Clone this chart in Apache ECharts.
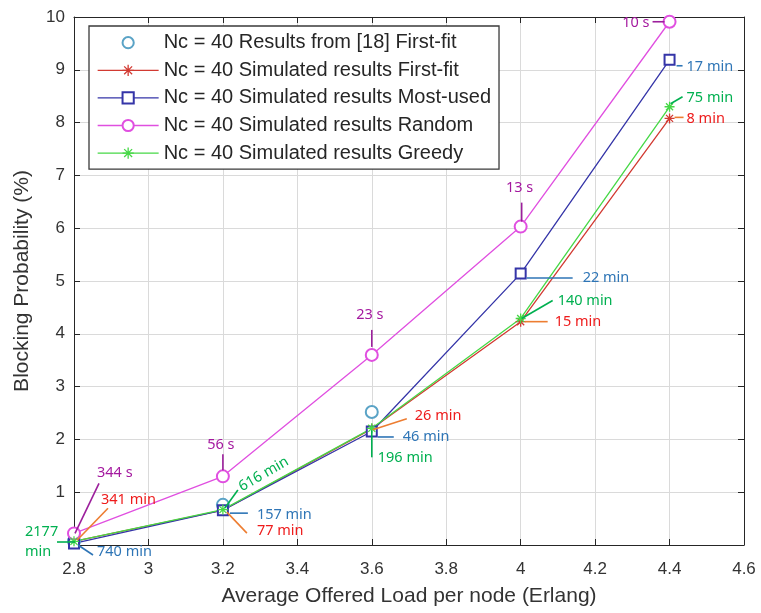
<!DOCTYPE html>
<html>
<head>
<meta charset="utf-8">
<script src="https://cdn.jsdelivr.net/npm/echarts@6/dist/echarts.min.js"></script>
<style>
  html, body { margin: 0; padding: 0; background: #ffffff; }
  #chart { width: 761px; height: 613px; }
</style>
</head>
<body>
<div id="chart"></div>
<script>
// Offered load per node (Erlang)
const loads = [2.8, 3.2, 3.6, 4.0, 4.4];

// Blocking probability (%) per strategy, Nc = 40
const ref18FirstFit = [0.07, 0.76, 2.52, null, null];
const simFirstFit   = [0.07, 0.66, 2.20, 4.23, 8.08];
const simMostUsed   = [0.03, 0.66, 2.15, 5.14, 9.19];
const simRandom     = [0.22, 1.30, 3.60, 6.03, 9.91];
const simGreedy     = [0.07, 0.67, 2.21, 4.29, 8.30];

// Run times written next to each simulated point
const randomTimes   = ['344 s', '56 s', '23 s', '13 s', '10 s'];
const firstFitTimes = ['341 min', '77 min', '26 min', '15 min', '8 min'];
const mostUsedTimes = ['740 min', '157 min', '46 min', '22 min', '17 min'];
const greedyTimes   = ['2177\nmin', '616 min', '196 min', '140 min', '75 min'];

// Axis ticks
const xTicks = [2.8, 3.0, 3.2, 3.4, 3.6, 3.8, 4.0, 4.2, 4.4, 4.6];
const yTicks = [0, 1, 2, 3, 4, 5, 6, 7, 8, 9, 10];

const names = [
  'Nc = 40 Results from [18] First-fit',
  'Nc = 40 Simulated results First-fit',
  'Nc = 40 Simulated results Most-used',
  'Nc = 40 Simulated results Random',
  'Nc = 40 Simulated results Greedy'
];

const ASTERISK = 'path://M0,-10L0,10M-10,0L10,0M-7.07,-7.07L7.07,7.07M-7.07,7.07L7.07,-7.07';

// Callout geometry, in pixels relative to the point: leader line [x1,y1,x2,y2], text anchor [x,y]
const randomCallouts = [
  { line: [1, 0, 25, -50], text: [23, -61], align: 'left' },
  { line: [0, -22, 0, -6], text: [-2, -31], align: 'center' },
  { line: [0, -25, 0, -8], text: [-2, -40], align: 'center' },
  { line: [1, -24, 1, -5], text: [-1, -39], align: 'center' },
  { line: [-17, 0, -5, 0], text: [-20, 1], align: 'right' }
];
const firstFitCallouts = [
  { line: [3, -1, 34, -33], text: [27, -41], align: 'left' },
  { line: [4, 2, 24, 23], text: [34, 21], align: 'left' },
  { line: [1, 1, 35, -10], text: [43, -13], align: 'left' },
  { line: [4, 0, 27, 0], text: [34, 0], align: 'left' },
  { line: [5, -1, 14, -1], text: [17, 0], align: 'left' }
];
const mostUsedCallouts = [
  { line: [4, 1.6, 19, 11.6], text: [23, 8.6], align: 'left' },
  { line: [7, 3, 25, 3], text: [34, 5], align: 'left' },
  { line: [6, 5.5, 22, 5.5], text: [31, 5.5], align: 'left' },
  { line: [6, 4.4, 52, 4.4], text: [62, 4.4], align: 'left' },
  { line: [7, 6, 13, 6], text: [17, 7], align: 'left' }
];
const greedyCallouts = [
  { line: [-17, 0.7, 1, 0.7], text: [-49, 1], align: 'left' },
  { line: [2, -1.6, 15, -19.6], text: [17, -21.6], align: 'left', rotate: Math.PI / 6 },
  { line: [0, 2, 0, 29], text: [6, 30], align: 'left' },
  { line: [1, 0, 32, -18], text: [37, -17.5], align: 'left' },
  { line: [1, -3, 13, -10], text: [17, -9], align: 'left' }
];

const calloutGroups = [
  { values: simRandom,   labels: randomTimes,   geo: randomCallouts,   textColor: '#a4199f', lineColor: '#9c1f9c' },
  { values: simFirstFit, labels: firstFitTimes, geo: firstFitCallouts, textColor: '#ee1b1b', lineColor: '#ed7d31' },
  { values: simMostUsed, labels: mostUsedTimes, geo: mostUsedCallouts, textColor: '#2e75b6', lineColor: '#2e75b6' },
  { values: simGreedy,   labels: greedyTimes,   geo: greedyCallouts,   textColor: '#00b050', lineColor: '#00b050' }
];

const callouts = [];
const calloutData = [];
calloutGroups.forEach(g => {
  g.values.forEach((v, i) => {
    calloutData.push([loads[i], v, callouts.length]);
    callouts.push(Object.assign({ label: g.labels[i], textColor: g.textColor, lineColor: g.lineColor }, g.geo[i]));
  });
});

const pairs = arr => loads.map((x, i) => [x, arr[i]]);
const fmt1 = v => String(Math.round(v * 10) / 10);
const axisColor = '#262626';
const labelColor = '#333333';
const uiFont = 'Liberation Sans';

function lineSeries(name, data, color, symbol, size, extra) {
  const stroke = symbol.indexOf('path://') === 0;
  return Object.assign({
    name: name,
    type: 'line',
    data: pairs(data),
    symbol: symbol,
    symbolSize: size,
    showSymbol: true,
    lineStyle: { color: color, width: 1.3 },
    itemStyle: stroke
      ? { color: color, borderColor: color, borderWidth: 1.3 }
      : { color: color, borderWidth: 1.3 },
    emphasis: { disabled: true },
    silent: true
  }, extra || {});
}

const chart = echarts.init(document.getElementById('chart'), null, { renderer: 'canvas' });

chart.setOption({
  animation: false,
  backgroundColor: '#ffffff',
  grid: { left: 74, right: 17, top: 17, bottom: 68, containLabel: false, outerBoundsMode: 'none' },
  legend: {
    orient: 'vertical',
    left: 89,
    top: 26,
    itemWidth: 61,
    itemHeight: 14,
    itemGap: 7.6,
    padding: [6.7, 8, 6, 8],
    backgroundColor: '#ffffff',
    borderColor: '#3a3a3a',
    borderWidth: 1.3,
    selectedMode: false,
    textStyle: { fontFamily: uiFont, fontSize: 20, color: '#262626', lineHeight: 20 },
    lineStyle: { width: 1.3 },
    itemStyle: { borderWidth: 1.3, opacity: 1 },
    data: [
      { name: names[0], lineStyle: { opacity: 0 }, itemStyle: { opacity: 1 } },
      names[1], names[2], names[3], names[4]
    ]
  },
  xAxis: [
    {
      type: 'value',
      position: 'bottom',
      min: xTicks[0],
      max: xTicks[xTicks.length - 1],
      interval: 0.2,
      name: 'Average Offered Load per node (Erlang)',
      nameLocation: 'middle',
      nameGap: 41,
      nameTextStyle: { fontFamily: uiFont, fontSize: 21, color: labelColor },
      axisLine: { show: true, onZero: false, lineStyle: { color: axisColor, width: 1 } },
      axisTick: { show: true, inside: true, length: 6, lineStyle: { color: axisColor } },
      axisLabel: { margin: 16, fontFamily: uiFont, fontSize: 17, color: labelColor, formatter: fmt1 },
      splitLine: { show: true, lineStyle: { color: '#dadada', width: 1 } }
    },
    {
      type: 'value',
      position: 'top',
      min: xTicks[0],
      max: xTicks[xTicks.length - 1],
      interval: 0.2,
      axisLine: { show: true, onZero: false, lineStyle: { color: axisColor, width: 1 } },
      axisTick: { show: true, inside: true, length: 6, lineStyle: { color: axisColor } },
      axisLabel: { show: false },
      splitLine: { show: false }
    }
  ],
  yAxis: [
    {
      type: 'value',
      position: 'left',
      min: yTicks[0],
      max: yTicks[yTicks.length - 1],
      interval: 1,
      name: 'Blocking Probability (%)',
      nameLocation: 'middle',
      nameGap: 41,
      nameTextStyle: { fontFamily: uiFont, fontSize: 21, color: labelColor },
      axisLine: { show: true, onZero: false, lineStyle: { color: axisColor, width: 1 } },
      axisTick: { show: true, inside: true, length: 6, lineStyle: { color: axisColor } },
      axisLabel: { margin: 9, fontFamily: uiFont, fontSize: 17, color: labelColor, showMinLabel: false },
      splitLine: { show: true, lineStyle: { color: '#dadada', width: 1 } }
    },
    {
      type: 'value',
      position: 'right',
      min: yTicks[0],
      max: yTicks[yTicks.length - 1],
      interval: 1,
      axisLine: { show: true, onZero: false, lineStyle: { color: axisColor, width: 1 } },
      axisTick: { show: true, inside: true, length: 6, lineStyle: { color: axisColor } },
      axisLabel: { show: false },
      splitLine: { show: false }
    }
  ],
  series: [
    lineSeries(names[0], ref18FirstFit, '#5aa3c6', 'emptyCircle', 12, { lineStyle: { opacity: 0, width: 0 } }),
    lineSeries(names[1], simFirstFit, '#d23a32', ASTERISK, 10),
    lineSeries(names[2], simMostUsed, '#3535a8', 'emptyRect', 10),
    lineSeries(names[3], simRandom, '#e04fe0', 'emptyCircle', 12),
    lineSeries(names[4], simGreedy, '#46d846', ASTERISK, 10),
    {
      name: 'callouts',
      type: 'custom',
      data: calloutData,
      z: 10,
      silent: true,
      clip: false,
      renderItem: function (params, api) {
        const p = api.coord([api.value(0), api.value(1)]);
        const c = callouts[api.value(2)];
        return {
          type: 'group',
          children: [
            {
              type: 'line',
              shape: { x1: p[0] + c.line[0], y1: p[1] + c.line[1], x2: p[0] + c.line[2], y2: p[1] + c.line[3] },
              style: { stroke: c.lineColor, lineWidth: 1.6 }
            },
            {
              type: 'text',
              x: p[0] + c.text[0],
              y: p[1] + c.text[1],
              rotation: c.rotate || 0,
              style: {
                text: c.label,
                fill: c.textColor,
                fontFamily: 'Noto Sans',
                fontSize: 14.5,
                lineHeight: 20,
                align: c.align,
                verticalAlign: 'middle'
              }
            }
          ]
        };
      }
    }
  ]
});
</script>
</body>
</html>
